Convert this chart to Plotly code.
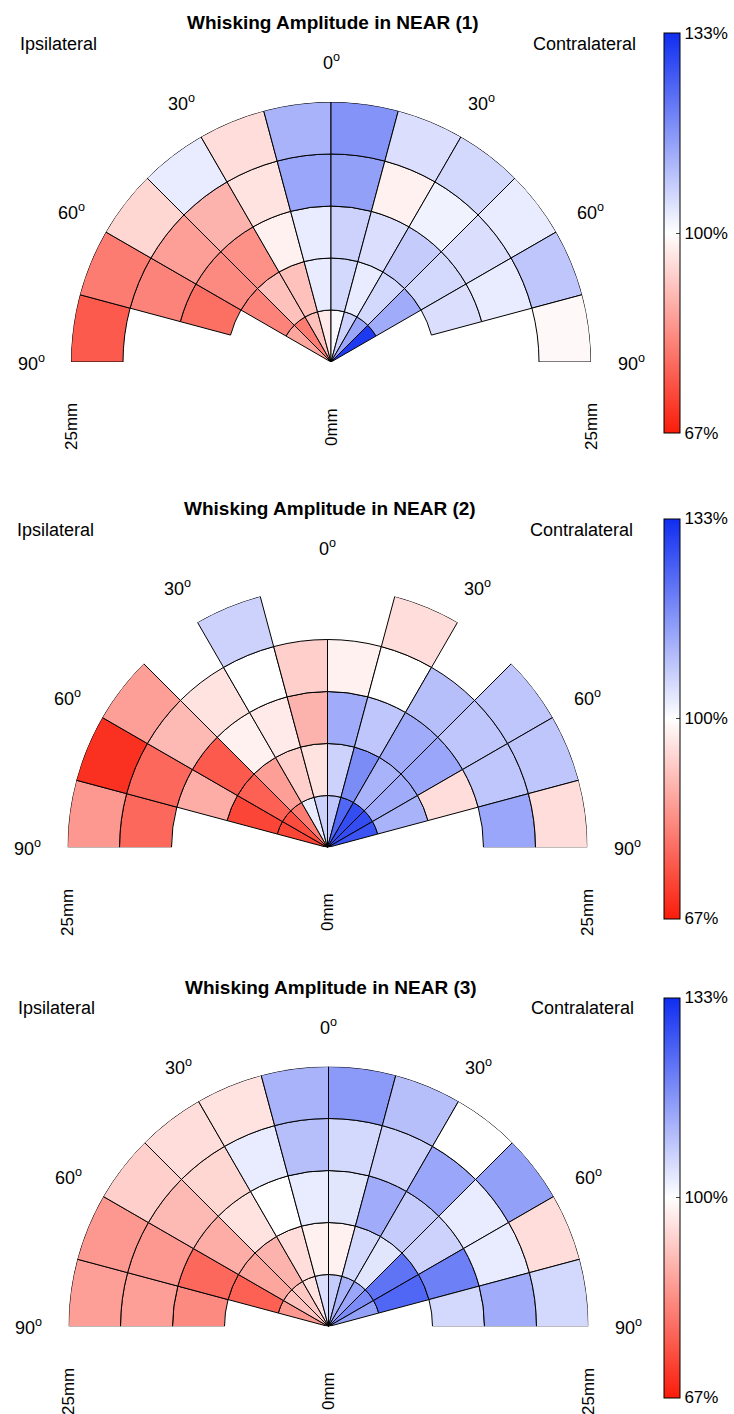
import math
import plotly.graph_objects as go

# ---------------- data ----------------
SECTOR_CENTERS_DEG = [-82.5, -67.5, -52.5, -37.5, -22.5, -7.5, 7.5, 22.5, 37.5, 52.5, 67.5, 82.5]
SECTOR_WIDTH_DEG = 15
RING_INNER_MM = [0, 5, 10, 15, 20]
RING_WIDTH_MM = 5
RADIUS_MAX_MM = 25

DEGREE_LABEL_ANGLES = [-90, -60, -30, 0, 30, 60, 90]
DIST_LABELS = ["25mm", "0mm", "25mm"]
CBAR_TICKS = [67, 100, 133]
CBAR_TEXT = ["67%", "100%", "133%"]
TITLES = ["Whisking Amplitude in NEAR (1)", "Whisking Amplitude in NEAR (2)", "Whisking Amplitude in NEAR (3)"]

# amplitude (% of baseline), rings from centre outwards, sectors from ipsilateral 90deg to contralateral 90deg
near1_ring0 = [None, None, 87, 81, 91, 97, 101, 107, 114, 131, None, None]
near1_ring1 = [None, None, 82, 91, 91, 103, 106, 103, 106, 113, None, None]
near1_ring2 = [None, 79, 83, 84, 98, 103, 107, 105, 108, 106, 105, None]
near1_ring3 = [None, 82, 86, 89, 96, 114, 115, 98, 102, 105, 103, None]
near1_ring4 = [76, 81, 94, 103, 95, 112, 117, 105, 106, 103, 109, 99]

near2_ring0 = [None, 73, 74, 81, 103, 107, 109, 124, 128, 128, 127, None]
near2_ring1 = [None, 73, 77, 86, 93, 96, 107, 118, 112, 113, 112, None]
near2_ring2 = [None, 88, 76, 98, 97, 89, 113, 109, 113, 114, 95, None]
near2_ring3 = [78, 78, 90, 96, 100, 93, 98, 100, 110, 109, 109, 114]
near2_ring4 = [85, 70, 86, None, 107, None, None, 95, None, 109, 109, 95]

near3_ring0 = [None, 85, 91, 92, 96, 105, 108, 112, 114, 118, 115, None]
near3_ring1 = [None, 77, 87, 89, 95, 98, 98, 106, 104, 122, 124, None]
near3_ring2 = [83, 78, 88, 96, 100, 103, 104, 113, 108, 107, 120, 106]
near3_ring3 = [86, 85, 90, 94, 103, 110, 106, 107, 114, 103, 103, 113]
near3_ring4 = [86, 85, 93, 95, 96, 112, 116, 110, 100, 115, 95, 106]

PANELS = [
    [near1_ring0, near1_ring1, near1_ring2, near1_ring3, near1_ring4],
    [near2_ring0, near2_ring1, near2_ring2, near2_ring3, near2_ring4],
    [near3_ring0, near3_ring1, near3_ring2, near3_ring3, near3_ring4],
]

# ---------------- layout geometry (pixels) ----------------
W, H = 734, 1414
CENTERS = [(331, 362), (327.5, 847.5), (328.5, 1326.5)]
R_PX = 260
FONT = "Liberation Sans, Arial, Helvetica, sans-serif"
COLORSCALE = [[0.0, "rgb(250,28,10)"], [0.5, "rgb(255,255,255)"], [1.0, "rgb(15,45,240)"]]


def fx(px):
    return px / W


def fy(py):
    return 1 - py / H


fig = go.Figure()
annotations = []
layout_extra = {}

for k, (rings, (cx, cy), title) in enumerate(zip(PANELS, CENTERS, TITLES), start=1):
    theta, base, rr, vals = [], [], [], []
    for inner, row in zip(RING_INNER_MM, rings):
        for ang, v in zip(SECTOR_CENTERS_DEG, row):
            if v is None:
                continue
            theta.append(ang)
            base.append(inner)
            rr.append(RING_WIDTH_MM)
            vals.append(v)
    sub = "polar" if k == 1 else f"polar{k}"
    cax = "coloraxis" if k == 1 else f"coloraxis{k}"
    fig.add_trace(go.Barpolar(
        r=rr, base=base, theta=theta, width=[SECTOR_WIDTH_DEG] * len(theta),
        marker=dict(color=vals, coloraxis=cax, line=dict(color="black", width=1)),
        subplot=sub, hoverinfo="skip", showlegend=False,
    ))
    layout_extra[sub] = dict(
        domain=dict(x=[fx(cx - R_PX), fx(cx + R_PX)], y=[fy(cy), fy(cy - R_PX)]),
        sector=[0, 180], hole=0, bgcolor="rgba(0,0,0,0)",
        radialaxis=dict(visible=False, range=[0, RADIUS_MAX_MM]),
        angularaxis=dict(visible=False, rotation=90, direction="clockwise"),
    )
    layout_extra[cax] = dict(
        colorscale=COLORSCALE, cmin=CBAR_TICKS[0], cmax=CBAR_TICKS[-1],
        colorbar=dict(
            x=fx(664), xanchor="left", xpad=0,
            y=fy(cy - 129), yanchor="middle", ypad=0,
            len=400, lenmode="pixels", thickness=16, thicknessmode="pixels",
            tickvals=CBAR_TICKS, ticktext=CBAR_TEXT, ticks="inside", ticklen=4,
            tickcolor="#444", outlinewidth=1, outlinecolor="black",
            tickfont=dict(family=FONT, size=17, color="black"),
        ),
    )
    # title
    annotations.append(dict(text=f"<b>{title}</b>", x=fx(cx + 2), y=fy(cy - 339), xref="paper", yref="paper",
                            showarrow=False, xanchor="center", yanchor="middle",
                            font=dict(family=FONT, size=19, color="black")))
    annotations.append(dict(text="Ipsilateral", x=fx(cx - 313), y=fy(cy - 318), xref="paper", yref="paper",
                            showarrow=False, xanchor="left", yanchor="middle",
                            font=dict(family=FONT, size=18, color="black")))
    annotations.append(dict(text="Contralateral", x=fx(cx + 307), y=fy(cy - 318), xref="paper", yref="paper",
                            showarrow=False, xanchor="right", yanchor="middle",
                            font=dict(family=FONT, size=18, color="black")))
    for a in DEGREE_LABEL_ANGLES:
        rad = math.radians(a)
        lx = cx + 300 * math.sin(rad)
        ly = cy - 300 * math.cos(rad)
        annotations.append(dict(text=f"{abs(a)}<sup>o</sup>", x=fx(lx), y=fy(ly), xref="paper", yref="paper",
                                showarrow=False, xanchor="center", yanchor="middle",
                                font=dict(family=FONT, size=18, color="black")))
    for lab, dxm in zip(DIST_LABELS, [-RADIUS_MAX_MM, 0, RADIUS_MAX_MM]):
        lx = cx + dxm / RADIUS_MAX_MM * R_PX
        annotations.append(dict(text=lab, x=fx(lx), y=fy(cy + 65), xref="paper", yref="paper",
                                showarrow=False, xanchor="center", yanchor="middle", textangle=-90,
                                font=dict(family=FONT, size=17, color="black")))

fig.update_layout(
    width=W, height=H, autosize=False,
    margin=dict(l=0, r=0, t=0, b=0),
    paper_bgcolor="white", plot_bgcolor="white",
    annotations=annotations,
    **layout_extra,
)

fig.write_html("out.html")
